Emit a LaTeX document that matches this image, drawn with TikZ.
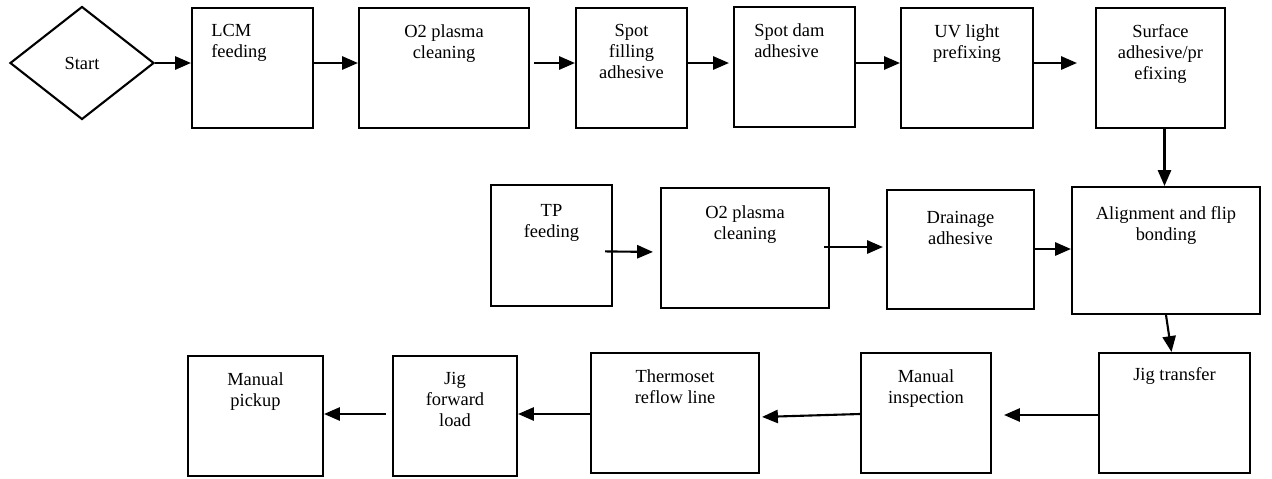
\documentclass[tikz,border=0pt]{standalone}
\usepackage{fontspec}
\setmainfont{Liberation Serif}
\usetikzlibrary{positioning,fit,shapes.geometric,arrows.meta,calc}

\begin{document}
\begin{tikzpicture}[
    x=0.02cm,y=-0.02cm,
    arrow/.style={-{Triangle[length=9pt,width=7.5pt]},line width=1.2pt,black},
    procbox/.style={rectangle,draw,line width=1.2pt,inner sep=0pt},
    steptext/.style={inner sep=0pt,align=center,anchor=north,
        font=\fontsize{10.5}{11.9}\selectfont},
    steptextl/.style={steptext,align=left,anchor=north west},
]
\useasboundingbox (0,0) rectangle (1272,478);

% rows of arrows
\coordinate (r1) at (0,63);
\coordinate (r3) at (0,415);

% === ROW 1: LCM SIDE ===
\node[diamond,draw,line width=1.2pt,inner sep=0pt,minimum width=2.88cm,minimum height=2.26cm,
    font=\fontsize{10.5}{11.9}\selectfont] (start) at (82,63) {Start};
\node[procbox,fit={(192,8)(313,128)}] (lcm) {};
\node[procbox,fit={(359,8)(529,128)}] (clean1) {};
\node[procbox,fit={(576,8)(687,128)}] (fill) {};
\node[procbox,fit={(734,7)(855,127)}] (dam) {};
\node[procbox,fit={(901,8)(1033,128)}] (uv) {};
\node[procbox,fit={(1096,8)(1225,128)}] (surf) {};

\node[steptextl] (lcmtxt) at ($(lcm.north west)+(20,17)$) {LCM\\feeding};
\node[steptext] (clean1txt) at ($(clean1.north)+(0,17)$) {O2 plasma\\cleaning};
\node[steptext] (filltxt) at ($(fill.north)+(0,17)$) {Spot\\filling\\adhesive};
\node[steptextl] (damtxt) at ($(dam.north west)+(21,17)$) {Spot dam\\adhesive};
\node[steptext] (uvtxt) at ($(uv.north)+(0,17)$) {UV light\\prefixing};
\node[steptext] (surftxt) at ($(surf.north)+(0,17)$) {Surface\\adhesive/pr\\efixing};

\draw[arrow] (start.east) -- (start.east -| lcm.west);
\draw[arrow] (lcm.east |- r1) -- (clean1.west |- r1);
\draw[arrow,shorten <=0.08cm] (clean1.east |- r1) -- (fill.west |- r1);
\draw[arrow,shorten >=0.08cm] (fill.east |- r1) -- (dam.west |- r1);
\draw[arrow] (dam.east |- r1) -- (uv.west |- r1);
\draw[arrow,shorten >=0.36cm] (uv.east |- r1) -- (surf.west |- r1);

% === ROW 2: TP SIDE ===
\node[procbox,fit={(491,185)(612,306)}] (tp) {};
\node[procbox,fit={(661,188)(829,308)}] (clean2) {};
\node[procbox,fit={(887,190)(1034,309)}] (drain) {};
\node[procbox,fit={(1072,187)(1260,314)}] (align) {};

\node[steptext] (tptxt) at ($(tp.north)+(0,20)$) {TP\\feeding};
\node[steptext] (clean2txt) at ($(clean2.north)+(0,18)$) {O2 plasma\\cleaning};
\node[steptext] (draintxt) at ($(drain.north)+(0,22)$) {Drainage\\adhesive};
\node[steptext] (aligntxt) at ($(align.north)+(0,20)$) {Alignment and flip\\bonding};

\coordinate (surfout) at ($(surf.south)+(4,0)$);
\draw[arrow] (surfout) -- (surfout |- align.north);
\draw[arrow,shorten <=-0.16cm,shorten >=0.14cm] ($(tp.east)+(0,6)$) -- ($(clean2.west)+(0,4)$);
\draw[arrow,shorten <=-0.12cm,shorten >=0.06cm] ($(clean2.east)+(0,-1)$) -- (drain.west |- 0,247);
\draw[arrow] (drain.east |- 0,249) -- (align.west |- 0,249);

% === ROW 3: BACK END ===
\node[procbox,fit={(1099,353)(1250,473)}] (jigtr) {};
\node[procbox,fit={(861,353)(991,473)}] (insp) {};
\node[procbox,fit={(591,353)(759,473)}] (reflow) {};
\node[procbox,fit={(393,356)(517,476)}] (jigfwd) {};
\node[procbox,fit={(188,356)(323,476)}] (pickup) {};

\node[steptext] (jigtrtxt) at ($(jigtr.north)+(0,15)$) {Jig transfer};
\node[steptext] (insptxt) at ($(insp.north)+(0,17)$) {Manual\\inspection};
\node[steptext] (reflowtxt) at ($(reflow.north)+(0,17)$) {Thermoset\\reflow line};
\node[steptext] (jigfwdtxt) at ($(jigfwd.north)+(0,17)$) {Jig\\forward\\load};
\node[steptext] (pickuptxt) at ($(pickup.north)+(0,17)$) {Manual\\pickup};

\draw[arrow] (align.south) -- ($(jigtr.north)+(-3,0)$);
\draw[arrow,shorten >=0.24cm] (jigtr.west |- r3) -- (insp.east |- r3);
\draw[arrow,shorten >=0.04cm] (insp.west |- 0,414) -- (reflow.east |- 0,417);
\draw[arrow] (reflow.west |- 0,414) -- (jigfwd.east |- 0,414);
\draw[arrow,shorten <=0.12cm] (jigfwd.west |- 0,414) -- (pickup.east |- 0,414);

\end{tikzpicture}
\end{document}
